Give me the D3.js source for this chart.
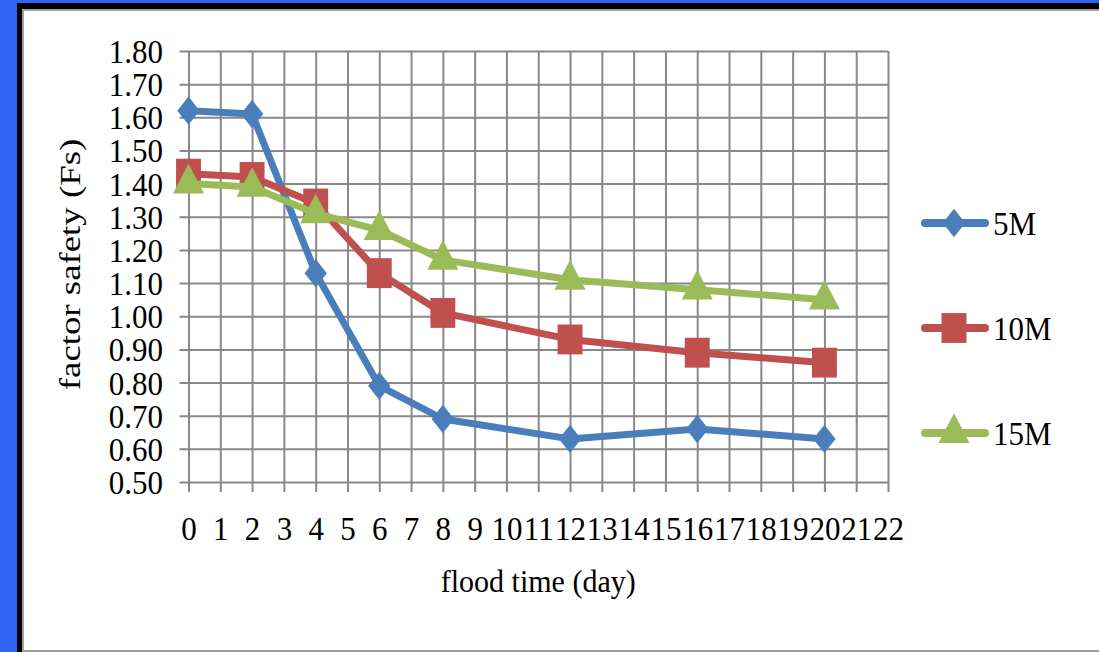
<!DOCTYPE html>
<html>
<head>
<meta charset="utf-8">
<script src="https://cdn.jsdelivr.net/npm/d3@7"></script>
<style>
  html, body { margin: 0; padding: 0; background: #3163f2; }
  svg { display: block; }
  text { font-family: 'Liberation Serif', 'Times New Roman', serif; fill: #000; }
</style>
</head>
<body>
<div id="chart"></div>
<script>
'use strict'
// flood time (day)
const days = [0, 2, 4, 6, 8, 12, 16, 20];
const fs5 = [1.62, 1.61, 1.13, 0.79, 0.69, 0.63, 0.66, 0.63];
const fs10 = [1.43, 1.42, 1.34, 1.13, 1.01, 0.93, 0.89, 0.86];
const fs15 = [1.40, 1.39, 1.31, 1.26, 1.17, 1.11, 1.08, 1.05];
const seriesNames = ['5M', '10M', '15M'];
const xTicks = d3.range(0, 23);
const yTicks = [0.5, 0.6, 0.7, 0.8, 0.9, 1.0, 1.1, 1.2, 1.3, 1.4, 1.5, 1.6, 1.7, 1.8];

let W = 1099, H = 652;
let margin = {top: 51, left: 188.5, right: 211, bottom: 170};
let width = W - margin.left - margin.right;
let height = H - margin.top - margin.bottom;
let colors = ['#4a7ebb', '#c0504d', '#9bbb59'];
let gridColor = '#888888';
let textScale = 1.12;

let svg = d3.select('#chart')
  .append('svg')
  .attr('width', W)
  .attr('height', H);

// frame
svg.append('rect').attr('x', 0).attr('y', 0).attr('width', W).attr('height', H).attr('fill', '#3163f2');
svg.append('rect').attr('x', 17).attr('y', 3).attr('width', W - 17).attr('height', H - 3).attr('fill', '#000');
svg.append('rect').attr('x', 22).attr('y', 9).attr('width', W - 22).attr('height', H - 9).attr('fill', '#a0a0a0');
svg.append('rect').attr('x', 24).attr('y', 11).attr('width', W - 24).attr('height', H - 13).attr('fill', '#fff');

let x = d3.scaleLinear().domain([0, 22]).range([0, width]);
let y = d3.scaleLinear().domain([0.5, 1.8]).range([height, 0]);

let g = svg.append('g')
  .attr('transform', 'translate(' + margin.left + ',' + margin.top + ')');

// horizontal grid + y labels
let yAxis = d3.axisLeft(y).tickValues(yTicks).tickSize(0).tickFormat(d3.format('.2f'));
let yG = g.append('g').call(yAxis);
yG.select('.domain').remove();
yG.selectAll('.tick line')
  .attr('x1', -9)
  .attr('x2', width)
  .attr('stroke', gridColor)
  .attr('stroke-width', 2);
yG.selectAll('.tick text')
  .attr('x', 0).attr('y', 0).attr('dy', null)
  .attr('transform', 'translate(-25.5,11.5) scale(1,' + textScale + ')')
  .attr('text-anchor', 'end')
  .attr('font-family', null)
  .attr('font-size', 31);

// vertical grid + x labels
let xAxis = d3.axisBottom(x).tickValues(xTicks).tickSize(0);
let xG = g.append('g').attr('transform', 'translate(0,' + height + ')').call(xAxis);
xG.select('.domain').remove();
xG.selectAll('.tick line')
  .attr('y1', 10)
  .attr('y2', -height)
  .attr('stroke', gridColor)
  .attr('stroke-width', 2);
xG.selectAll('.tick text')
  .attr('x', 0).attr('y', 0).attr('dy', null)
  .attr('transform', 'translate(0,58) scale(1,' + textScale + ')')
  .attr('text-anchor', 'middle')
  .attr('font-family', null)
  .attr('font-size', 31);

// axis titles
g.append('text')
  .attr('transform', 'translate(' + (width / 2) + ',' + (height + 110) + ') scale(1,1.06)')
  .attr('text-anchor', 'middle')
  .attr('font-size', 30)
  .text('flood time (day)');
g.append('text')
  .attr('transform', 'translate(' + (80 - margin.left) + ',' + (height / 2 - 2) + ') rotate(-90) scale(1.27,1)')
  .attr('text-anchor', 'middle')
  .attr('font-size', 29)
  .text('factor safety (Fs)');

// symbols
let symbols = [
  d3.symbol().type(d3.symbolSquare).size(250),
  d3.symbol().type(d3.symbolSquare).size(620),
  d3.symbol().type(d3.symbolTriangle).size(420)
];
let markerTf = [
  ' scale(1,1.27) rotate(45)',
  ' scale(1,1.2)',
  ' scale(1,1.1)'
];

let allSeries = [fs5, fs10, fs15];
let line = d3.line()
  .x(function(d, i) { return x(days[i]); })
  .y(function(d) { return y(d); });

allSeries.forEach(function(vals, s) {
  g.append('path')
    .datum(vals)
    .attr('d', line)
    .attr('fill', 'none')
    .attr('stroke', colors[s])
    .attr('stroke-width', 7)
    .attr('stroke-linejoin', 'round');
  g.selectAll('.mk' + s)
    .data(vals)
    .enter().append('path')
    .attr('class', 'mk' + s)
    .attr('d', symbols[s])
    .attr('fill', colors[s])
    .attr('transform', function(d, i) {
      return 'translate(' + x(days[i]) + ',' + y(d) + ')' + markerTf[s];
    });
});

// legend
let legendY = d3.scalePoint().domain(seriesNames).range([223, 433]);
let legend = svg.append('g');
seriesNames.forEach(function(name, s) {
  let ly = legendY(name);
  legend.append('line')
    .attr('x1', 925).attr('x2', 985)
    .attr('y1', ly).attr('y2', ly)
    .attr('stroke', colors[s])
    .attr('stroke-width', 8)
    .attr('stroke-linecap', 'round');
  legend.append('path')
    .attr('d', symbols[s])
    .attr('fill', colors[s])
    .attr('transform', 'translate(954,' + ly + ')' + markerTf[s]);
  legend.append('text')
    .attr('transform', 'translate(993,' + (ly + 12) + ') scale(1,' + textScale + ')')
    .attr('font-size', 31)
    .text(name);
});
</script>
</body>
</html>
